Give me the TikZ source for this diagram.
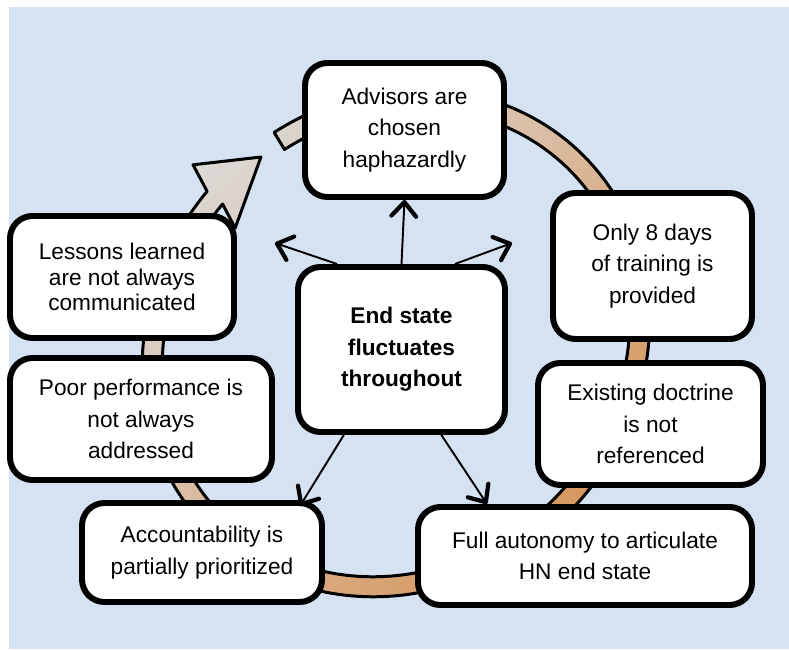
\documentclass[tikz,border=0pt]{standalone}
\usepackage{fontspec}
\setmainfont{Liberation Sans}
\usetikzlibrary{arrows.meta,shadows}
\definecolor{bgblue}{RGB}{212,226,242}
\definecolor{ringlight}{RGB}{220,219,218}
\definecolor{ringdark}{RGB}{214,146,84}

\begin{document}
\begin{tikzpicture}[
		box/.style={draw, line width=3.4pt, rounded corners=0.45cm, fill=white, align=center,
			font=\fontsize{12.9}{17.9}\selectfont, inner sep=0pt,
			drop shadow={shadow xshift=1pt, shadow yshift=-1.5pt, opacity=0.25}},
		link/.style={line width=1.1pt, -{Straight Barb[round, length=8pt, width=14pt, line width=2.4pt]}},
		ring/.style={line width=1.7pt, line join=round, top color=ringlight, bottom color=ringdark, shading angle=45}
	]
		%frame
			\useasboundingbox (0,0) rectangle (15.78,12.98);
			\fill[bgblue] (0.18,0) rectangle (15.78,12.84);
		%cycle arrow
			\begin{scope}[shift={(7.92,6.12)}, rotate=45]
				\shade[ring, draw=black] (76.3:5.30 and 4.84) arc[start angle=76.3, end angle=-264.3, x radius=5.30, y radius=4.84]
					-- (-0.35,5.39) -- (0.72,4.54) -- (-0.65,3.90)
					-- (-264.3:4.90 and 4.44) arc[start angle=-264.3, end angle=76.3, x radius=4.90, y radius=4.44] -- cycle;
			\end{scope}
		%outer boxes
			\node[box, minimum width=3.98cm, minimum height=2.68cm] (advisors) at (8.09,10.38) {Advisors are\\chosen\\haphazardly};
			\node[box, minimum width=3.98cm, minimum height=2.92cm] (training) at (13.05,7.66) {Only 8 days\\of training is\\provided};
			\node[box, minimum width=4.50cm, minimum height=2.44cm] (doctrine) at (13.01,4.50) {Existing doctrine\\is not\\referenced};
			\node[box, minimum width=6.68cm, minimum height=1.96cm] (autonomy) at (11.70,1.86) {Full autonomy to articulate\\HN end state};
			\node[box, minimum width=4.80cm, minimum height=1.98cm] (account) at (4.04,1.93) {Accountability is\\partially prioritized};
			\node[box, minimum width=5.24cm, minimum height=2.44cm] (performance) at (2.82,4.60) {Poor performance is\\not always\\addressed};
			\node[box, minimum width=4.48cm, minimum height=2.44cm, font=\fontsize{12.9}{14.6}\selectfont] (lessons) at (2.44,7.44) {Lessons learned\\are not always\\communicated};
		%centre box
			\node[box, minimum width=4.14cm, minimum height=3.30cm, font=\fontsize{12.9}{17.9}\selectfont\bfseries] (endstate) at (8.03,5.99) {End state\\fluctuates\\throughout};
		%arrows from the centre
			\coordinate (ul) at (5.50,8.12);
			\coordinate (ur) at (10.24,8.12);
			\coordinate (dl) at (6.00,2.86);
			\coordinate (dr) at (9.74,2.90);
			\draw[link] (endstate.north) -- (advisors.south);
			\draw[link] (endstate.127.6) -- (ul);
			\draw[link] (endstate.58.3) -- (ur);
			\draw[link] (endstate.236.5) -- (dl);
			\draw[link] (endstate.295) -- (dr);
	\end{tikzpicture}
\end{document}
